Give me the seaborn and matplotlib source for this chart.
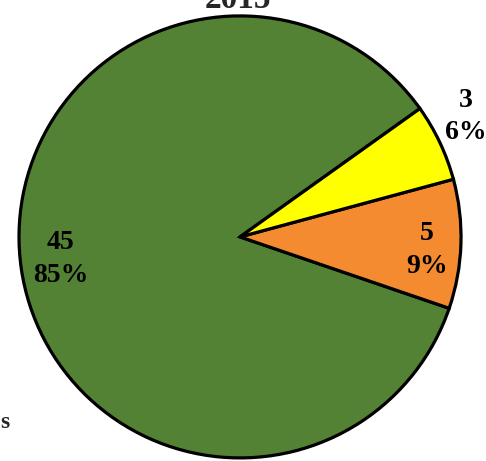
import matplotlib
matplotlib.use("Agg")
import matplotlib.pyplot as plt
import seaborn as sns
import numpy as np

sns.set_theme(style="white")
plt.rcParams['font.family'] = ['Liberation Serif', 'DejaVu Serif']

title = "2015"
categories = ["Green", "Orange", "Yellow"]
values = [45, 5, 3]
colors = ["#548235", "#F48B31", "#FFFF00"]

# label anchor positions (layout, in axes data units)
label_pos = [(-0.81, -0.10), (0.846, -0.06), (1.02, 0.545)]

fig = plt.figure(figsize=(4.86, 4.61), dpi=100)
ax = fig.add_axes([0, 0, 1, 1])
wedges, _ = ax.pie(values, colors=colors, startangle=35.5, counterclock=True,
                   wedgeprops=dict(edgecolor="black", linewidth=2.3))
total = sum(values)
for (x, y), v in zip(label_pos, values):
    ax.text(x, y, f"{v}\n{v/total:.0%}",
            ha="center", va="center", fontsize=20, fontweight="bold",
            linespacing=1.4, color="black")
ax.set_xlim(-1.086, 1.113)
ax.set_ylim(-1.014, 1.072)
ax.set_aspect("auto")
ax.axis("off")
ax.text(-0.01, 1.075, title, ha="center", va="center", fontsize=24,
        fontweight="bold")
fig.text(0.0, 0.083, "s", ha="left", va="center", fontsize=17, fontweight="bold")
fig.savefig("out.png", dpi=100)
